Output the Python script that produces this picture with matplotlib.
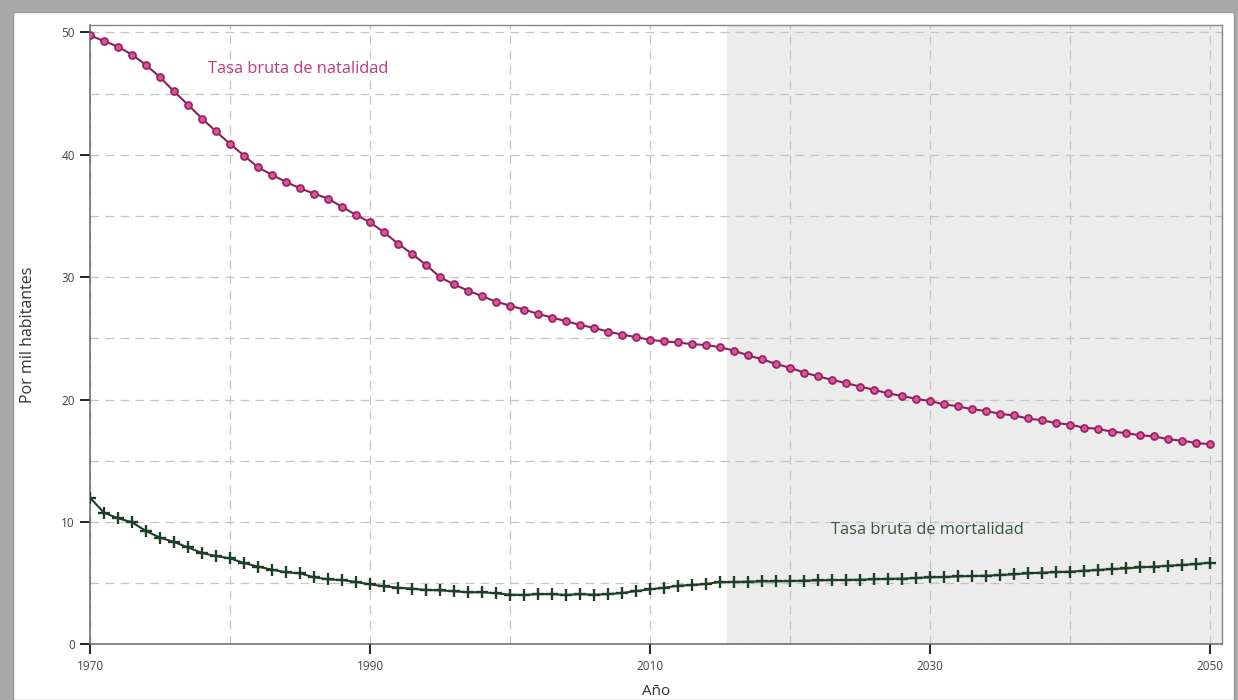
import matplotlib
matplotlib.use("Agg")
from matplotlib import pyplot as plt
from matplotlib.patches import Rectangle

plt.rcParams['font.family'] = ['Open Sans', 'DejaVu Sans']

years = list(range(1970, 2051))

natalidad = [
    49.75, 49.29, 48.83, 48.17, 47.33, 46.34, 45.17, 44.08, 42.96, 41.90,
    40.89, 39.93, 38.98, 38.35, 37.78, 37.26, 36.82, 36.42, 35.74, 35.08,
    34.48, 33.66, 32.74, 31.90, 31.00, 30.00, 29.40, 28.90, 28.45, 28.00,
    27.67, 27.35, 27.00, 26.70, 26.40, 26.10, 25.85, 25.55, 25.30, 25.10,
    24.87, 24.76, 24.66, 24.52, 24.46, 24.27, 24.00, 23.60, 23.30, 22.90,
    22.60, 22.20, 21.90, 21.60, 21.35, 21.05, 20.80, 20.50, 20.30, 20.05,
    19.88, 19.60, 19.45, 19.20, 19.07, 18.83, 18.70, 18.45, 18.30, 18.08,
    17.95, 17.70, 17.60, 17.37, 17.26, 17.07, 17.00, 16.75, 16.64, 16.45,
    16.35,
]

mortalidad = [
    11.98, 10.75, 10.30, 9.97, 9.26, 8.71, 8.36, 7.92, 7.46, 7.21,
    7.02, 6.64, 6.34, 6.10, 5.88, 5.80, 5.47, 5.31, 5.25, 5.09,
    4.90, 4.74, 4.62, 4.55, 4.44, 4.41, 4.33, 4.25, 4.25, 4.17,
    4.05, 4.03, 4.10, 4.10, 4.03, 4.10, 4.05, 4.10, 4.19, 4.35,
    4.49, 4.62, 4.79, 4.84, 4.93, 5.09, 5.09, 5.12, 5.14, 5.15,
    5.17, 5.20, 5.22, 5.25, 5.25, 5.28, 5.31, 5.35, 5.36, 5.42,
    5.47, 5.50, 5.55, 5.58, 5.60, 5.66, 5.72, 5.80, 5.85, 5.90,
    5.93, 6.01, 6.07, 6.15, 6.20, 6.29, 6.34, 6.42, 6.48, 6.56,
    6.67,
]

inicio_proyeccion = 2015.5
xticks = [1970, 1990, 2010, 2030, 2050]
yticks = [0, 10, 20, 30, 40, 50]

fig = plt.figure(figsize=(12.38, 7), dpi=100, facecolor='#a9a9a9')

# white card with a soft grey frame
fig.patches.append(Rectangle((13 / 1238, 0), (1234 - 13) / 1238, 1 - 12 / 700,
                             transform=fig.transFigure, facecolor='white',
                             edgecolor='#9a9a9a', linewidth=1.0, zorder=-10))

ax = fig.add_axes([90 / 1238, 1 - 644.3 / 700, (1222 - 90) / 1238, (644.3 - 25) / 700])
ax.set_xlim(1970, 2050.86)
ax.set_ylim(0, 50.6)

ax.axvspan(inicio_proyeccion, 2050.86, color='#ececec', zorder=0, lw=0)

ax.set_xticks(xticks)
ax.set_yticks(yticks)
ax.set_xticks(range(1980, 2051, 20), minor=True)
ax.set_yticks(range(5, 51, 10), minor=True)
ax.grid(which='both', linestyle=(0, (7, 5)), color='#c4c4c4', linewidth=0.9, zorder=1)
ax.tick_params(which='minor', length=0)
ax.tick_params(which='major', direction='out', length=7, width=1.4, color='#222222',
               labelsize=8.5, labelcolor='#444444', pad=4)

ax.plot(years, natalidad, color='#8c1f55', lw=1.5, marker='o', markersize=5,
        markerfacecolor='#d7559a', markeredgecolor='#9a2462', markeredgewidth=1.3, zorder=3)
ax.plot(years, mortalidad, color='#1d3f27', lw=1.5, marker='+', markersize=9,
        markeredgewidth=1.7, markeredgecolor='#1d3f27', zorder=3)

ax.text(1978.4, 47.0, 'Tasa bruta de natalidad', color='#c2367f', fontsize=11.8,
        va='center', ha='left')
ax.text(2022.9, 9.3, 'Tasa bruta de mortalidad', color='#2f5a3c', fontsize=11.8,
        va='center', ha='left')

ax.set_xlabel('Año', fontsize=11, color='#333333', labelpad=8)
ax.set_ylabel('Por mil habitantes', fontsize=11.5, color='#333333', labelpad=18)

for side in ['left', 'bottom']:
    ax.spines[side].set_color('#666666')
    ax.spines[side].set_linewidth(1.1)
for side in ['top', 'right']:
    ax.spines[side].set_color('#888888')
    ax.spines[side].set_linewidth(1.0)

fig.savefig('out.png', dpi=100, facecolor=fig.get_facecolor())
